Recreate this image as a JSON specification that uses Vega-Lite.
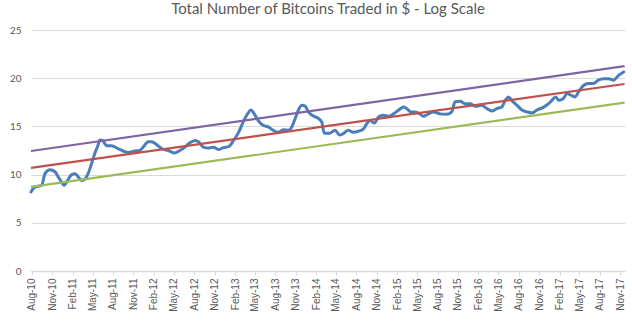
{
  "$schema": "https://vega.github.io/schema/vega-lite/v6.json",
  "width": 594,
  "height": 241,
  "autosize": {"type": "none"},
  "padding": {"left": 31, "top": 30, "right": 7, "bottom": 56},
  "background": "white",
  "title": {"text": "Total Number of Bitcoins Traded in $ - Log Scale", "font": "Lato", "fontSize": 15, "fontWeight": "normal", "color": "#595959", "anchor": "middle", "offset": 8},
  "config": {"view": {"stroke": null}},
  "datasets": {
    "btc": [
      {"d": "2010-07-28", "v": 8.2}, {"d": "2010-08-14", "v": 8.7}, {"d": "2010-09-14", "v": 8.9}, {"d": "2010-09-29", "v": 10.1},
      {"d": "2010-10-21", "v": 10.5}, {"d": "2010-11-13", "v": 10.3}, {"d": "2010-11-28", "v": 9.75}, {"d": "2010-12-13", "v": 9.2},
      {"d": "2010-12-24", "v": 8.9}, {"d": "2011-01-09", "v": 9.4}, {"d": "2011-01-27", "v": 10.0}, {"d": "2011-02-12", "v": 10.1},
      {"d": "2011-02-26", "v": 9.75}, {"d": "2011-03-12", "v": 9.4}, {"d": "2011-03-26", "v": 9.5}, {"d": "2011-04-11", "v": 10.1},
      {"d": "2011-04-26", "v": 11.1}, {"d": "2011-05-11", "v": 12.2}, {"d": "2011-05-25", "v": 13.0}, {"d": "2011-06-03", "v": 13.6},
      {"d": "2011-06-17", "v": 13.5}, {"d": "2011-07-03", "v": 13.0}, {"d": "2011-07-25", "v": 13.0}, {"d": "2011-08-24", "v": 12.7},
      {"d": "2011-09-16", "v": 12.45}, {"d": "2011-10-09", "v": 12.3}, {"d": "2011-11-08", "v": 12.45}, {"d": "2011-11-30", "v": 12.5},
      {"d": "2011-12-15", "v": 12.85}, {"d": "2012-01-07", "v": 13.4}, {"d": "2012-01-22", "v": 13.4}, {"d": "2012-02-14", "v": 13.1},
      {"d": "2012-03-07", "v": 12.7}, {"d": "2012-04-06", "v": 12.5}, {"d": "2012-05-06", "v": 12.25}, {"d": "2012-05-28", "v": 12.5},
      {"d": "2012-06-20", "v": 12.85}, {"d": "2012-07-12", "v": 13.3}, {"d": "2012-08-05", "v": 13.55}, {"d": "2012-08-20", "v": 13.4},
      {"d": "2012-09-11", "v": 12.85}, {"d": "2012-10-04", "v": 12.75}, {"d": "2012-10-26", "v": 12.85}, {"d": "2012-11-18", "v": 12.6},
      {"d": "2012-12-10", "v": 12.8}, {"d": "2013-01-03", "v": 12.9}, {"d": "2013-01-25", "v": 13.55}, {"d": "2013-02-17", "v": 14.4},
      {"d": "2013-03-09", "v": 15.45}, {"d": "2013-03-29", "v": 16.3}, {"d": "2013-04-13", "v": 16.7}, {"d": "2013-04-28", "v": 16.3},
      {"d": "2013-05-16", "v": 15.6}, {"d": "2013-06-08", "v": 15.1}, {"d": "2013-06-30", "v": 14.95}, {"d": "2013-07-22", "v": 14.6},
      {"d": "2013-08-14", "v": 14.4}, {"d": "2013-09-07", "v": 14.65}, {"d": "2013-09-29", "v": 14.6}, {"d": "2013-10-14", "v": 14.95},
      {"d": "2013-10-29", "v": 15.8}, {"d": "2013-11-13", "v": 16.7}, {"d": "2013-11-28", "v": 17.2}, {"d": "2013-12-13", "v": 17.1},
      {"d": "2013-12-28", "v": 16.5}, {"d": "2014-01-13", "v": 16.15}, {"d": "2014-01-27", "v": 16.0}, {"d": "2014-02-12", "v": 15.8},
      {"d": "2014-02-26", "v": 15.45}, {"d": "2014-03-09", "v": 14.3}, {"d": "2014-04-04", "v": 14.3}, {"d": "2014-04-26", "v": 14.6},
      {"d": "2014-05-18", "v": 14.1}, {"d": "2014-06-03", "v": 14.25}, {"d": "2014-06-25", "v": 14.6}, {"d": "2014-07-17", "v": 14.4},
      {"d": "2014-08-10", "v": 14.5}, {"d": "2014-09-02", "v": 14.75}, {"d": "2014-09-17", "v": 15.3}, {"d": "2014-10-02", "v": 15.6},
      {"d": "2014-10-21", "v": 15.35}, {"d": "2014-11-09", "v": 16.0}, {"d": "2014-12-01", "v": 16.15}, {"d": "2014-12-23", "v": 16.05},
      {"d": "2015-01-15", "v": 16.3}, {"d": "2015-02-07", "v": 16.7}, {"d": "2015-03-01", "v": 17.0}, {"d": "2015-03-15", "v": 16.85},
      {"d": "2015-04-04", "v": 16.5}, {"d": "2015-04-21", "v": 16.5}, {"d": "2015-05-14", "v": 16.3}, {"d": "2015-05-29", "v": 16.05},
      {"d": "2015-06-21", "v": 16.3}, {"d": "2015-07-13", "v": 16.5}, {"d": "2015-08-12", "v": 16.3}, {"d": "2015-09-12", "v": 16.25},
      {"d": "2015-10-04", "v": 16.5}, {"d": "2015-10-19", "v": 17.55}, {"d": "2015-11-11", "v": 17.6}, {"d": "2015-12-03", "v": 17.35},
      {"d": "2015-12-26", "v": 17.35}, {"d": "2016-01-18", "v": 17.1}, {"d": "2016-02-17", "v": 17.2}, {"d": "2016-03-10", "v": 16.85},
      {"d": "2016-04-02", "v": 16.6}, {"d": "2016-04-24", "v": 16.85}, {"d": "2016-05-16", "v": 17.0}, {"d": "2016-06-01", "v": 17.7},
      {"d": "2016-06-16", "v": 18.05}, {"d": "2016-06-30", "v": 17.7}, {"d": "2016-07-23", "v": 17.2}, {"d": "2016-08-15", "v": 16.7},
      {"d": "2016-09-07", "v": 16.5}, {"d": "2016-09-29", "v": 16.4}, {"d": "2016-10-22", "v": 16.7}, {"d": "2016-11-21", "v": 17.0},
      {"d": "2016-12-13", "v": 17.35}, {"d": "2016-12-28", "v": 17.7}, {"d": "2017-01-13", "v": 18.05}, {"d": "2017-01-28", "v": 17.7},
      {"d": "2017-02-18", "v": 17.9}, {"d": "2017-03-05", "v": 18.4}, {"d": "2017-03-27", "v": 18.2}, {"d": "2017-04-12", "v": 18.05},
      {"d": "2017-04-26", "v": 18.55}, {"d": "2017-05-19", "v": 19.25}, {"d": "2017-06-11", "v": 19.45}, {"d": "2017-07-03", "v": 19.45},
      {"d": "2017-07-25", "v": 19.8}, {"d": "2017-08-18", "v": 19.95}, {"d": "2017-09-09", "v": 19.95}, {"d": "2017-10-02", "v": 19.8},
      {"d": "2017-10-24", "v": 20.3}, {"d": "2017-11-16", "v": 20.65}
    ],
    "trend": [
      {"d": "2010-07-28", "v": 12.45, "s": "upper"}, {"d": "2017-11-20", "v": 21.25, "s": "upper"},
      {"d": "2010-07-28", "v": 10.7, "s": "mid"}, {"d": "2017-11-20", "v": 19.4, "s": "mid"},
      {"d": "2010-07-28", "v": 8.72, "s": "lower"}, {"d": "2017-11-20", "v": 17.47, "s": "lower"}
    ]
  },
  "encoding": {
    "x": {
      "field": "d", "type": "temporal",
      "scale": {"type": "utc", "domain": [{"utc": true, "year": 2010, "month": 7, "date": 28}, {"utc": true, "year": 2017, "month": 11, "date": 22}], "nice": false},
      "axis": {
        "title": null, "labelExpr": "utcFormat(datum.value, '%b-%y')", "labelAngle": 270,
        "values": [
          {"utc": true, "year": 2010, "month": 8, "date": 1}, {"utc": true, "year": 2010, "month": 11, "date": 1},
          {"utc": true, "year": 2011, "month": 2, "date": 1}, {"utc": true, "year": 2011, "month": 5, "date": 1}, {"utc": true, "year": 2011, "month": 8, "date": 1}, {"utc": true, "year": 2011, "month": 11, "date": 1},
          {"utc": true, "year": 2012, "month": 2, "date": 1}, {"utc": true, "year": 2012, "month": 5, "date": 1}, {"utc": true, "year": 2012, "month": 8, "date": 1}, {"utc": true, "year": 2012, "month": 11, "date": 1},
          {"utc": true, "year": 2013, "month": 2, "date": 1}, {"utc": true, "year": 2013, "month": 5, "date": 1}, {"utc": true, "year": 2013, "month": 8, "date": 1}, {"utc": true, "year": 2013, "month": 11, "date": 1},
          {"utc": true, "year": 2014, "month": 2, "date": 1}, {"utc": true, "year": 2014, "month": 5, "date": 1}, {"utc": true, "year": 2014, "month": 8, "date": 1}, {"utc": true, "year": 2014, "month": 11, "date": 1},
          {"utc": true, "year": 2015, "month": 2, "date": 1}, {"utc": true, "year": 2015, "month": 5, "date": 1}, {"utc": true, "year": 2015, "month": 8, "date": 1}, {"utc": true, "year": 2015, "month": 11, "date": 1},
          {"utc": true, "year": 2016, "month": 2, "date": 1}, {"utc": true, "year": 2016, "month": 5, "date": 1}, {"utc": true, "year": 2016, "month": 8, "date": 1}, {"utc": true, "year": 2016, "month": 11, "date": 1},
          {"utc": true, "year": 2017, "month": 2, "date": 1}, {"utc": true, "year": 2017, "month": 5, "date": 1}, {"utc": true, "year": 2017, "month": 8, "date": 1}, {"utc": true, "year": 2017, "month": 11, "date": 1}
        ],
        "labelFont": "Liberation Sans", "labelFontSize": 10, "labelColor": "#595959", "labelPadding": 3,
        "domainColor": "#d9d9d9", "domainWidth": 1.5, "tickColor": "#d9d9d9", "tickSize": 4, "grid": false, "labelOverlap": false
      }
    },
    "y": {
      "field": "v", "type": "quantitative",
      "scale": {"domain": [0, 25], "nice": false, "zero": true},
      "axis": {
        "title": null, "values": [0, 5, 10, 15, 20, 25], "domain": false, "ticks": false,
        "grid": true, "gridColor": "#d9d9d9", "gridWidth": 1,
        "labelFont": "Lato", "labelFontSize": 10, "labelColor": "#595959", "labelPadding": 10
      }
    }
  },
  "layer": [
    {
      "data": {"name": "btc"},
      "mark": {"type": "line", "color": "#4a7ebb", "strokeWidth": 3, "strokeJoin": "round", "strokeCap": "round", "interpolate": "monotone"}
    },
    {
      "data": {"name": "trend"},
      "mark": {"type": "line", "strokeWidth": 2.2},
      "encoding": {
        "color": {"field": "s", "type": "nominal", "scale": {"domain": ["upper", "mid", "lower"], "range": ["#8064a2", "#c0504d", "#9bbb59"]}, "legend": null}
      }
    }
  ]
}
